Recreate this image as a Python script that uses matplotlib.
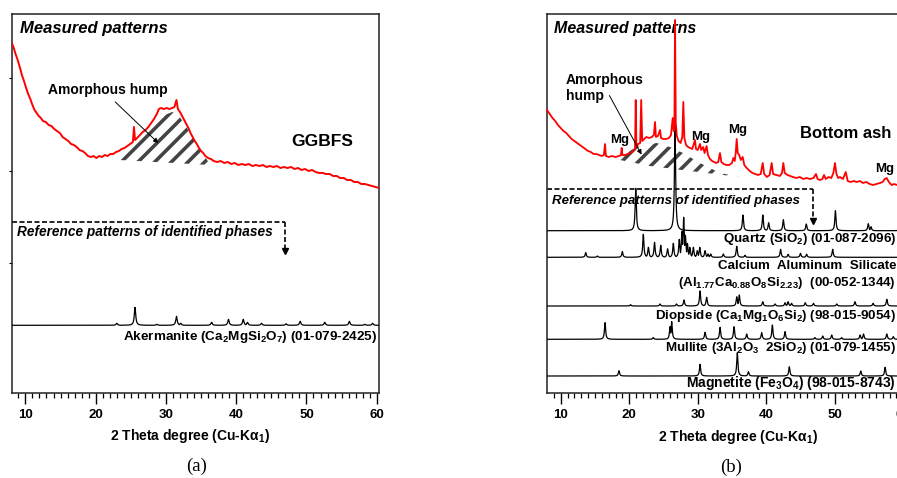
import numpy as np
import matplotlib
matplotlib.use("Agg")
import matplotlib.pyplot as plt

plt.rcParams['font.family'] = ['Liberation Sans', 'DejaVu Sans']
plt.rcParams['font.weight'] = 'bold'
plt.rcParams['mathtext.default'] = 'regular'
plt.rcParams['hatch.linewidth'] = 2.6

# ---------------- panel (a): GGBFS ----------------
a_meas_tt = [8.05, 8.3, 8.6, 8.9, 9.2, 9.5, 9.8, 10.1, 10.4, 10.7, 11.0, 11.3, 11.6,
             11.9, 12.2, 12.5, 12.9, 13.3, 13.7, 14.1, 14.5, 14.9, 15.3, 15.7, 16.1,
             16.5, 16.9, 17.3, 17.7, 18.1, 18.5, 18.9, 19.3, 19.7, 20.1, 20.5, 20.9,
             21.3, 21.7, 22.1, 22.5, 22.9, 23.3, 23.7, 24.1, 24.5, 24.9, 25.3, 25.45,
             25.6, 25.9, 26.3, 26.7, 27.1, 27.5, 27.9, 28.3, 28.7, 29.0, 29.3, 29.7,
             30.1, 30.5, 30.9, 31.2, 31.5, 31.7, 32.0, 32.3, 32.6, 32.9, 33.2, 33.5,
             33.8, 34.1, 34.4, 34.7, 35.0, 35.3, 35.6, 36.0, 36.4, 36.8, 37.3, 37.8,
             38.3, 38.8, 39.3, 39.8, 40.3, 40.8, 41.3, 41.8, 42.3, 42.8, 43.3, 43.8,
             44.3, 44.8, 45.3, 45.8, 46.3, 46.8, 47.3, 47.8, 48.3, 48.8, 49.3, 49.8,
             50.3, 50.8, 51.3, 51.8, 52.3, 52.8, 53.3, 53.8, 54.3, 54.8, 55.3, 55.8,
             56.3, 56.8, 57.3, 57.8, 58.3, 58.8, 59.3, 59.8, 60.35]
a_meas_int = [350, 346, 339, 333, 326, 318, 312, 305, 299, 294, 288, 283, 280,
              277, 275, 272, 271, 268, 267, 264, 262, 260, 256, 254, 252,
              249, 248, 246, 243, 242, 240, 237, 236, 237, 235, 237, 236,
              238, 237, 239, 239, 241, 242, 244, 245, 247, 249, 251, 266,
              253, 255, 258, 261, 263, 266, 270, 274, 279, 284, 285, 284,
              285, 284, 285, 286, 293, 284, 281, 277, 273, 269, 265, 260,
              256, 252, 249, 245, 242, 240, 237, 235, 234, 232, 231, 232,
              230, 231, 229, 230, 228, 229, 228, 229, 227, 228, 227, 228,
              226, 227, 226, 227, 225, 226, 225, 226, 224, 225, 223, 224,
              222, 223, 221, 220, 220, 219, 219, 217, 217, 215, 215, 213,
              213, 211, 211, 209, 209, 208, 207, 206, 205]

a_hump_tt = [23.4, 25.8, 29.1, 30.9, 31.7, 34.1, 36.3]
a_hump_int = [233, 253, 276, 281, 279, 253, 228]

akermanite_base = 67.7
akermanite_pos = [23.0, 25.6, 28.7, 31.5, 32.1, 36.5, 38.9, 41.0, 41.6, 43.6, 47.1,
                  49.1, 52.6, 56.1, 58.3, 59.4]
akermanite_h = [2, 18, 1, 9, 2, 3, 6, 6, 3, 2, 1.5, 4, 3, 4, 1, 2]

# ---------------- panel (b): bottom ash ----------------
b_meas_tt = [8.0, 8.4, 8.8, 9.2, 9.6, 10.0, 10.4, 10.8, 11.2, 11.6, 12.0, 12.4, 12.8,
             13.2, 13.6, 14.0, 14.4, 14.8, 15.2, 15.6, 16.0, 16.3, 16.47, 16.6, 17.0,
             17.5, 18.0, 18.5, 18.8, 18.9, 19.0, 19.4, 19.8, 20.2, 20.6, 20.85, 20.95,
             21.05, 21.3, 21.6, 21.75, 21.9, 22.2, 22.5, 22.9, 23.3, 23.6, 23.77, 23.9,
             24.2, 24.5, 24.65, 25.0, 25.4, 25.8, 26.1, 26.35, 26.5, 26.6, 26.69, 26.8,
             26.95, 27.2, 27.5, 27.75, 27.9, 28.05, 28.3, 28.6, 28.9, 29.2, 29.6, 29.75,
             30.0, 30.34, 30.5, 30.8, 31.0, 31.3, 31.5, 31.8, 32.1, 32.4, 32.7, 33.0,
             33.25, 33.45, 33.8, 34.2, 34.6, 35.0, 35.2, 35.4, 35.55, 35.69, 35.85, 36.05,
             36.3, 36.57, 36.8, 37.15, 37.6, 38.0, 38.4, 38.8, 39.2, 39.49, 39.7, 40.1,
             40.5, 40.8, 41.0, 41.5, 42.0, 42.3, 42.5, 42.7, 43.1, 43.5, 43.9, 44.4,
             44.9, 45.4, 45.9, 46.4, 46.9, 47.27, 47.5, 47.85, 48.2, 48.44, 48.7, 49.1,
             49.5, 49.8, 50.04, 50.25, 50.5, 50.77, 51.2, 51.61, 51.9, 52.3, 52.8, 53.2,
             53.7, 54.1, 54.6, 55.1, 55.6, 56.1, 56.6, 57.0, 57.3, 57.59, 57.9, 58.3,
             58.7, 59.1, 59.5, 59.9, 60.26]
b_meas_int = [283, 279, 275, 272, 268, 265, 262, 260, 257, 254, 252, 250, 248,
              246, 244, 242, 241, 239, 239, 238, 237, 238, 249, 237, 236,
              237, 236, 237, 238, 245, 238, 238, 239, 240, 242, 244, 293,
              246, 249, 250, 293, 252, 254, 256, 255, 256, 258, 271, 256,
              257, 263, 255, 254, 254, 255, 258, 275, 262, 270, 373, 270,
              257, 252, 250, 256, 291, 255, 248, 246, 245, 244, 253, 244,
              243, 249, 243, 246, 240, 247, 238, 234, 232, 231, 230, 231,
              240, 231, 229, 228, 228, 230, 235, 232, 240, 254, 240, 238,
              233, 236, 228, 225, 222, 220, 219, 218, 219, 230, 219, 216,
              218, 230, 219, 218, 217, 220, 230, 220, 218, 217, 216, 215,
              216, 214, 215, 214, 215, 219, 214, 213, 214, 218, 214, 216,
              215, 220, 230, 219, 215, 216, 214, 221, 212, 211, 212, 211,
              212, 210, 211, 209, 208, 209, 210, 211, 214, 215, 211, 208,
              209, 208, 209, 209, 209]

b_hump_tt = [17.93, 21.1, 24.0, 25.95, 27.85, 30.33, 33.25, 36.17, 28.9, 23.04]
b_hump_int = [234, 246, 250, 246, 240, 230, 220, 216, 222, 227]

quartz_base = 162.3
quartz_pos = [20.95, 26.69, 36.6, 39.5, 40.35, 42.5, 45.85, 50.1, 54.9, 55.3, 59.95]
quartz_h = [42.4, 106.7, 15.7, 15.7, 8, 11, 6.7, 20, 7, 4, 8]

cas_base = 135.7
cas_pos = [13.65, 15.35, 19.0, 22.06, 22.8, 23.7, 24.6, 25.6, 26.44, 27.31, 27.7,
           27.95, 28.2, 28.5, 28.85, 29.36, 29.94, 30.3, 31.07, 31.5, 31.9, 33.74,
           35.69, 36.9, 42.1, 43.2, 45.0, 45.9, 49.7]
cas_h = [4.7, 1.3, 5.7, 23, 10, 15, 12, 8.5, 14, 18, 26,
         40, 22, 14, 10, 10, 6.7, 10, 6.7, 3.3, 3.3, 3.3,
         11, 2, 8, 3, 4, 3, 8]

diopside_base = 87
diopside_pos = [20.2, 24.5, 26.9, 28.0, 30.34, 31.3, 35.7, 36.07, 39.5, 41.3, 42.75,
                43.2, 43.7, 45.7, 46.9, 50.3, 52.96, 55.6, 57.6]
diopside_h = [1.3, 2, 2, 6, 15, 8.7, 9.3, 11, 4.3, 2, 3.3,
              4.3, 2.7, 3.3, 2.7, 2, 4.3, 2.7, 6.7]

mullite_base = 53.7
mullite_pos = [16.47, 23.5, 25.96, 26.2, 31.07, 33.26, 35.3, 37.15, 39.34, 40.9,
               42.75, 47.1, 48.25, 49.56, 51.0, 53.7, 54.2, 57.6, 58.55]
mullite_h = [16.7, 1.7, 12.7, 17.7, 7, 12, 12.7, 5.3, 6.7, 14.3,
             7.7, 1.7, 3.3, 4.3, 1.7, 4.3, 5.3, 5.3, 2.7]

magnetite_base = 17
magnetite_pos = [18.5, 30.34, 35.78, 37.4, 43.37, 53.8, 57.35]
magnetite_h = [5.3, 11.7, 23.3, 4.3, 9.3, 5, 8.7]

b_labels = ['Quartz (SiO$_2$) (01-087-2096)',
            'Calcium  Aluminum  Silicate',
            '(Al$_{1.77}$Ca$_{0.88}$O$_8$Si$_{2.23}$)  (00-052-1344)',
            'Diopside (Ca$_1$Mg$_1$O$_6$Si$_2$) (98-015-9054)',
            'Mullite (3Al$_2$O$_3$  2SiO$_2$) (01-079-1455)',
            'Magnetite (Fe$_3$O$_4$) (98-015-8743)']
b_label_y = [154, 127, 109.7, 77, 45.3, 9.5]
b_label_size = [9.6, 9.6, 9.6, 9.6, 9.6, 10]

mg_tt = [18.53, 30.49, 35.89, 57.35]
mg_int = [253, 256, 263, 224]

W, H = 897, 478


def pattern(ax, pos, heights, base, xlim, width=0.1):
    grid = np.linspace(xlim[0], xlim[1], 5000)
    prof = np.zeros_like(grid)
    for p, h in zip(pos, heights):
        prof = np.maximum(prof, h / (1 + ((grid - p) / width) ** 2))
    ax.plot(grid, base + prof, color='black', lw=0.9, zorder=3)


def style_axes(ax, xlim):
    ax.set_xlim(*xlim)
    ax.set_ylim(0, 379)
    ax.set_xticks(range(10, 61, 10))
    ax.set_xticks(range(9, 61), minor=True)
    ax.tick_params(axis='x', which='major', direction='out', length=8, width=1,
                   labelsize=9.5, pad=3.5)
    ax.tick_params(axis='x', which='minor', direction='out', length=3.6, width=0.9)
    for s in ax.spines.values():
        s.set_linewidth(1.1)
        s.set_color('#222222')


fig = plt.figure(figsize=(W / 100, H / 100), dpi=100)

# ---- (a) ----
xlim_a = (8.05, 60.35)
ax = fig.add_axes([11.7 / W, 85 / H, 367.5 / W, 379 / H])
style_axes(ax, xlim_a)
ax.set_yticks([130, 222, 315])
ax.tick_params(axis='y', direction='out', length=2, width=0.8, labelleft=False)

ax.fill(a_hump_tt, a_hump_int, facecolor='none', edgecolor='#444444', hatch='//',
        linewidth=0, zorder=2)
ax.plot(a_meas_tt, a_meas_int, color='red', lw=1.4, zorder=4)
pattern(ax, akermanite_pos, akermanite_h, akermanite_base, xlim_a, width=0.12)

ax.text(9.2, 365, 'Measured patterns', fontsize=12, style='italic', va='center')
ax.text(21.75, 303, 'Amorphous hump', fontsize=10, ha='center', va='center')
ax.annotate('', xy=(29.2, 248), xytext=(22.5, 293),
            arrowprops=dict(arrowstyle='-|>', lw=0.7, color='black', mutation_scale=7),
            zorder=5)
ax.text(52.2, 252, 'GGBFS', fontsize=12.5, ha='center', va='center')

ax.plot([xlim_a[0], 46.95], [171, 171], color='black', lw=1.2, ls=(0, (3, 1.5)))
ax.plot([46.95, 46.95], [171, 145], color='black', lw=1.2, ls=(0, (3, 1.5)))
ax.plot([46.95], [142], marker='v', ms=5, color='black')
ax.text(8.8, 161, 'Reference patterns of identified phases', fontsize=9.8,
        style='italic', va='center')
ax.text(60.0, 56, 'Akermanite (Ca$_2$MgSi$_2$O$_7$) (01-079-2425)', fontsize=9.7,
        ha='right', va='center')

fig.text(190 / W, 1 - 436 / H, '2 Theta degree (Cu-Kα$_1$)', fontsize=10,
         ha='center', va='center')
fig.text(197 / W, 1 - 466 / H, '(a)', fontsize=13.5, family='Liberation Serif',
         weight='normal', ha='center', va='center')

# ---- (b) ----
xlim_b = (8.0, 60.26)
bx = fig.add_axes([547 / W, 85 / H, 358 / W, 379 / H])
style_axes(bx, xlim_b)
bx.set_yticks([])

bx.fill(b_hump_tt, b_hump_int, facecolor='none', edgecolor='#444444', hatch='//',
        linewidth=0, zorder=2)
bx.plot(b_meas_tt, b_meas_int, color='red', lw=1.3, zorder=4, clip_on=False)

pattern(bx, quartz_pos, quartz_h, quartz_base, xlim_b)
pattern(bx, cas_pos, cas_h, cas_base, xlim_b)
pattern(bx, diopside_pos, diopside_h, diopside_base, xlim_b)
pattern(bx, mullite_pos, mullite_h, mullite_base, xlim_b)
pattern(bx, magnetite_pos, magnetite_h, magnetite_base, xlim_b)

bx.text(9.03, 365, 'Measured patterns', fontsize=11.5, style='italic', va='center')
bx.text(10.77, 305, 'Amorphous\nhump', fontsize=10, ha='left', va='center',
        linespacing=1.15)
bx.annotate('', xy=(22.0, 236), xytext=(16.91, 300),
            arrowprops=dict(arrowstyle='-|>', lw=0.7, color='black', mutation_scale=7),
            zorder=5)
for t, i in zip(mg_tt, mg_int):
    bx.text(t, i, 'Mg', fontsize=9.5, ha='center', va='center')
bx.text(51.65, 260, 'Bottom ash', fontsize=12, ha='center', va='center')

bx.plot([xlim_b[0], 46.9], [203.7, 203.7], color='black', lw=1.2, ls=(0, (3, 1.5)))
bx.plot([46.9, 46.9], [203.7, 175], color='black', lw=1.2, ls=(0, (3, 1.5)))
bx.plot([46.9], [172.5], marker='v', ms=5, color='black')
bx.text(8.69, 192.3, 'Reference patterns of identified phases', fontsize=9.5,
        style='italic', va='center')
for lab, y, fs in zip(b_labels, b_label_y, b_label_size):
    bx.text(58.95, y, lab, fontsize=fs, ha='right', va='center')

fig.text(738 / W, 1 - 436.5 / H, '2 Theta degree (Cu-Kα$_1$)', fontsize=10,
         ha='center', va='center')
fig.text(731 / W, 1 - 467 / H, '(b)', fontsize=13.5, family='Liberation Serif',
         weight='normal', ha='center', va='center')

fig.savefig('out.png', dpi=100)
